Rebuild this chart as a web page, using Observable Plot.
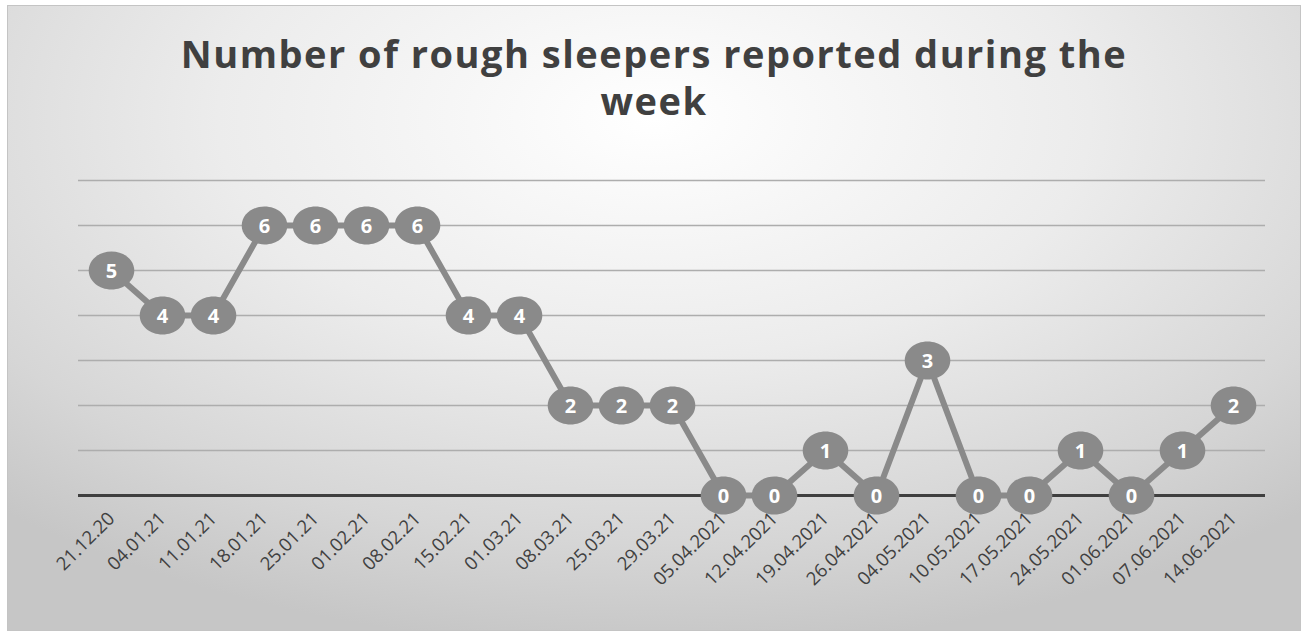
<!DOCTYPE html>
<html>
<head>
<meta charset="utf-8">
<script src="https://cdn.jsdelivr.net/npm/d3@7"></script>
<script src="https://cdn.jsdelivr.net/npm/@observablehq/plot@0.6"></script>
<style>
  html, body { margin: 0; padding: 0; background: #ffffff; }
  #frame {
    position: absolute; left: 7px; top: 5px; width: 1292px; height: 624px;
    border: 1px solid #c4c4c4;
    background: radial-gradient(ellipse 75% 85% at 50% 18%, #ffffff 0%, #ececec 45%, #d6d6d6 80%, #c6c6c6 100%);
    overflow: hidden;
  }
  #title {
    position: absolute; left: 0; right: 0; top: 24px;
    text-align: center; font-family: "Open Sans", sans-serif; font-weight: 700;
    font-size: 38px; line-height: 47px; color: #404040; letter-spacing: 1.5px;
  }
  #chart { position: absolute; left: -8px; top: 144px; width: 1309px; }
  #chart svg { max-width: none !important; }
</style>
</head>
<body>
<div id="frame">
  <div id="title">Number of rough sleepers reported during the<br>week</div>
  <div id="chart"></div>
</div>
<script>
const weeks = ["21.12.20","04.01.21","11.01.21","18.01.21","25.01.21","01.02.21","08.02.21","15.02.21","01.03.21","08.03.21","25.03.21","29.03.21","05.04.2021","12.04.2021","19.04.2021","26.04.2021","04.05.2021","10.05.2021","17.05.2021","24.05.2021","01.06.2021","07.06.2021","14.06.2021"];
const sleepers = [5,4,4,6,6,6,6,4,4,2,2,2,0,0,1,0,3,0,0,1,0,1,2];
const gridValues = [1,2,3,4,5,6,7];

const data = weeks.map((w, i) => ({week: w, count: sleepers[i]}));

const ellipse = {
  draw(ctx, size) {
    const r = Math.sqrt(size / Math.PI);
    const rx = r * 1.2, ry = r, k = 0.5523;
    ctx.moveTo(rx, 0);
    ctx.bezierCurveTo(rx, ry * k, rx * k, ry, 0, ry);
    ctx.bezierCurveTo(-rx * k, ry, -rx, ry * k, -rx, 0);
    ctx.bezierCurveTo(-rx, -ry * k, -rx * k, -ry, 0, -ry);
    ctx.bezierCurveTo(rx * k, -ry, rx, -ry * k, rx, 0);
    ctx.closePath();
  }
};

const chart = Plot.plot({
  width: 1309,
  height: 484,
  marginTop: 30,
  marginBottom: 139,
  marginLeft: 78,
  marginRight: 44,
  style: {background: "transparent", fontFamily: "Open Sans, sans-serif", fontSize: "17px", overflow: "visible"},
  x: {type: "point", domain: weeks, padding: 0.55, label: null},
  y: {domain: [0, 7], axis: null},
  marks: [
    Plot.ruleY(gridValues, {stroke: "#adadad", strokeWidth: 1.5}),
    Plot.ruleY([0], {stroke: "#3f3f3f", strokeWidth: 3}),
    Plot.line(data, {x: "week", y: "count", stroke: "#8a8a8a", strokeWidth: 6}),
    Plot.dot(data, {x: "week", y: "count", r: 19, symbol: ellipse, fill: "#8a8a8a", stroke: "none"}),
    Plot.text(data, {x: "week", y: "count", text: d => String(d.count), fill: "white", fontSize: 20, fontWeight: 700, dy: 1}),
    Plot.axisX({tickSize: 0, tickRotate: -45, tickPadding: 20, fontSize: 18.5, fill: "#404040", label: null})
  ]
});
document.getElementById("chart").appendChild(chart);
</script>
</body>
</html>
